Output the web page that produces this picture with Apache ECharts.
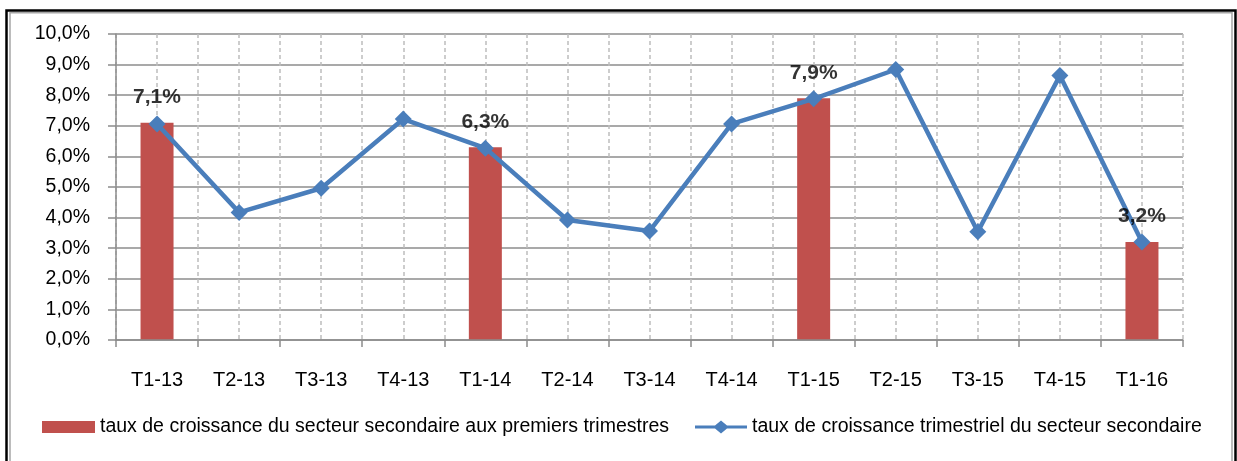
<!DOCTYPE html>
<html>
<head>
<meta charset="utf-8">
<script src="https://cdn.jsdelivr.net/npm/echarts@6/dist/echarts.min.js"></script>
<style>
  html, body { margin: 0; padding: 0; background: #fff; }
  #main { width: 1237px; height: 461px; }
</style>
</head>
<body>
<div id="main"></div>
<script>
// trimestres
var categories = ['T1-13', 'T2-13', 'T3-13', 'T4-13', 'T1-14', 'T2-14', 'T3-14', 'T4-14', 'T1-15', 'T2-15', 'T3-15', 'T4-15', 'T1-16'];
// barres : seulement les premiers trimestres
var premiersTrimestres = [7.1, null, null, null, 6.3, null, null, null, 7.9, null, null, null, 3.2];
// courbe : taux trimestriel
var tauxTrimestriel = [7.06, 4.17, 4.96, 7.22, 6.27, 3.92, 3.56, 7.06, 7.88, 8.84, 3.54, 8.64, 3.2];
var yTicks = [0, 1, 2, 3, 4, 5, 6, 7, 8, 9, 10];

var nomBarres = 'taux de croissance du secteur secondaire aux premiers trimestres';
var nomCourbe = 'taux de croissance trimestriel du secteur secondaire';

var police = "'Liberation Sans', Arial, sans-serif";
function pct(v) { return v.toFixed(1).replace('.', ',') + '%'; }

var chart = echarts.init(document.getElementById('main'));
chart.setOption({
  animation: false,
  textStyle: { fontFamily: police, color: '#000' },
  grid: { left: 116, right: 54, top: 34, bottom: 121 },
  graphic: [
    { type: 'rect', silent: true, shape: { x: 6.5, y: 10.5, width: 1229, height: 470 },
      style: { fill: 'none', stroke: '#000', lineWidth: 2.5 } },
    { type: 'rect', silent: true, shape: { x: 10, y: 12.8, width: 1222, height: 470 },
      style: { fill: 'none', stroke: '#a6a6a6', lineWidth: 1.5 } }
  ],
  legend: [
    { data: [nomBarres], left: 37, top: 412, icon: 'rect', itemWidth: 53, itemHeight: 12,
      textStyle: { fontFamily: police, fontSize: 19.5, color: '#000' } },
    { data: [nomCourbe], left: 690, top: 412, itemWidth: 52, itemHeight: 13,
      icon: 'path://M0,5 L20,5 L26,0 L32,5 L52,5 L52,8 L32,8 L26,13 L20,8 L0,8 Z',
      itemStyle: { color: '#4A7EBB' },
      textStyle: { fontFamily: police, fontSize: 19.5, color: '#000' } }
  ],
  xAxis: [
    {
      type: 'category', data: categories, boundaryGap: true,
      axisLine: { lineStyle: { color: '#8c8c8c', width: 1.5 } },
      axisTick: { show: true, length: 7, lineStyle: { color: '#8c8c8c', width: 1.5 } },
      axisLabel: { margin: 30, fontSize: 20, color: '#000', fontFamily: police },
      splitLine: { show: false }, z: 3
    },
    {
      // quadrillage vertical en tirets (centres et limites des catégories)
      type: 'value', min: 0, max: categories.length * 2, interval: 1, position: 'top',
      axisLine: { show: false }, axisTick: { show: false }, axisLabel: { show: false },
      splitLine: { show: true, lineStyle: { color: '#bdbdbd', type: [4, 3], width: 1.5 } }
    }
  ],
  yAxis: {
    type: 'value', min: yTicks[0], max: yTicks[yTicks.length - 1], interval: 1,
    axisLine: { show: true, lineStyle: { color: '#8c8c8c', width: 1.5 } },
    axisTick: { show: true, length: 8, lineStyle: { color: '#8c8c8c', width: 1.5 } },
    axisLabel: { margin: 26, fontSize: 19.5, color: '#000', fontFamily: police, formatter: pct },
    splitLine: { lineStyle: { color: '#8c8c8c', width: 1.5 } }
  },
  series: [
    {
      name: nomBarres, type: 'bar', data: premiersTrimestres, barWidth: 33,
      itemStyle: { color: '#C0504D' },
      z: 2
    },
    {
      name: nomCourbe, type: 'line', data: tauxTrimestriel,
      symbol: 'diamond', symbolSize: 17,
      lineStyle: { color: '#4A7EBB', width: 4.5 },
      itemStyle: { color: '#4A7EBB' },
      z: 4
    },
    {
      // étiquettes des barres, posées au-dessus de la courbe
      name: 'etiquettes', type: 'scatter', data: premiersTrimestres, symbolSize: 0,
      silent: true, z: 6,
      label: { show: true, position: 'top', distance: 15, fontFamily: police, fontSize: 21,
        fontWeight: 'bold', color: '#000', formatter: function (p) { return pct(p.value); } }
    }
  ]
});
</script>
</body>
</html>
